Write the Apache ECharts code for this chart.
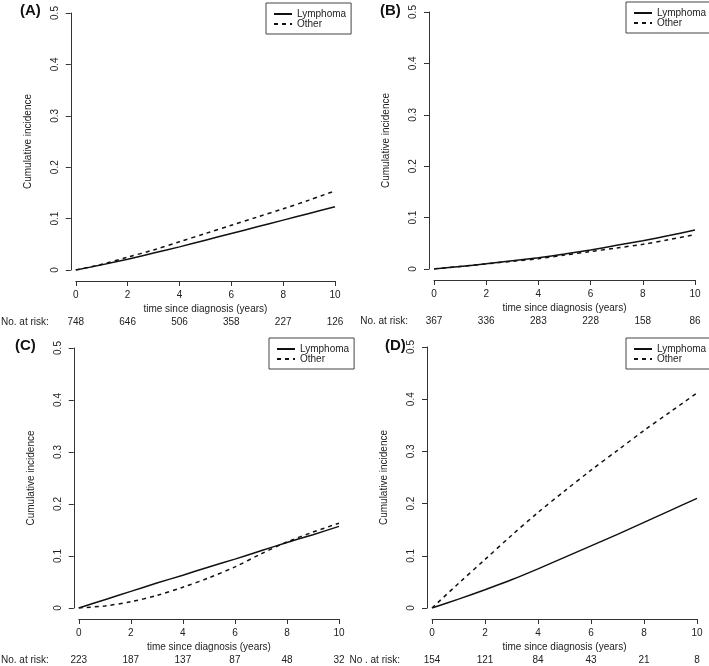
<!DOCTYPE html>
<html>
<head>
<meta charset="utf-8">
<script src="https://cdn.jsdelivr.net/npm/echarts@6/dist/echarts.min.js"></script>
<style>
html,body{margin:0;padding:0;background:#fff;}
#c{width:709px;height:666px;}
</style>
</head>
<body>
<div id="c"></div>
<script>
// ---- data ----
var years = [0, 1, 2, 3, 4, 5, 6, 7, 8, 9, 10];
var seriesNames = ['Lymphoma', 'Other'];
var panelLabels = ['(A)', '(B)', '(C)', '(D)'];
var atRiskLabels = ['No. at risk:', 'No. at risk:', 'No. at risk:', 'No . at risk:'];

var A_lymphoma = [0, 0.010, 0.021, 0.033, 0.045, 0.058, 0.071, 0.084, 0.097, 0.110, 0.123];
var A_other    = [0, 0.011, 0.025, 0.039, 0.055, 0.071, 0.087, 0.103, 0.119, 0.136, 0.154];
var A_atRisk   = [748, 646, 506, 358, 227, 126];

var B_lymphoma = [0, 0.005, 0.010, 0.016, 0.022, 0.029, 0.037, 0.046, 0.055, 0.065, 0.076];
var B_other    = [0, 0.005, 0.010, 0.015, 0.020, 0.027, 0.034, 0.041, 0.048, 0.057, 0.067];
var B_atRisk   = [367, 336, 283, 228, 158, 86];

var C_lymphoma = [0, 0.016, 0.032, 0.048, 0.063, 0.079, 0.094, 0.110, 0.126, 0.141, 0.157];
var C_other    = [0, 0.004, 0.012, 0.024, 0.040, 0.058, 0.079, 0.104, 0.127, 0.146, 0.163];
var C_atRisk   = [223, 187, 137, 87, 48, 32];

var D_lymphoma = [0, 0.017, 0.035, 0.054, 0.075, 0.097, 0.119, 0.141, 0.164, 0.187, 0.210];
var D_other    = [0, 0.047, 0.093, 0.139, 0.183, 0.224, 0.264, 0.302, 0.340, 0.376, 0.412];
var D_atRisk   = [154, 121, 84, 43, 21, 8];

var xTicks = [0, 2, 4, 6, 8, 10];
var yTicks = [0, 0.1, 0.2, 0.3, 0.4, 0.5];

// ---- layout (styles/positions) ----
var panels = [
  {lym: A_lymphoma, oth: A_other, risk: A_atRisk, grid: {left: 74, top: 13, width: 261, height: 257}, legend: {left: 266, top: 3}, title: {left: 20, top: 3}, riskGap: 27},
  {lym: B_lymphoma, oth: B_other, risk: B_atRisk, grid: {left: 434, top: 12, width: 261, height: 257}, legend: {left: 626, top: 2}, title: {left: 380, top: 3}, riskGap: 26},
  {lym: C_lymphoma, oth: C_other, risk: C_atRisk, grid: {left: 74, top: 348, width: 265, height: 260}, legend: {left: 269, top: 338}, title: {left: 15, top: 338}, riskGap: 30},
  {lym: D_lymphoma, oth: D_other, risk: D_atRisk, grid: {left: 432, top: 347, width: 265, height: 261}, legend: {left: 626, top: 338}, title: {left: 385, top: 338}, riskGap: 32}
];

var FONT = '"Liberation Sans", Arial, sans-serif';
var TXT = '#222';
var AX = '#333';

var option = {
  backgroundColor: '#fff',
  animation: false,
  textStyle: {fontFamily: FONT},
  title: [], legend: [], grid: [], xAxis: [], yAxis: [], series: []
};

panels.forEach(function (p, i) {
  option.title.push({
    text: panelLabels[i], left: p.title.left, top: p.title.top, padding: 0,
    textStyle: {fontFamily: FONT, fontSize: 15, fontWeight: 'bold', color: '#111'}
  });
  option.grid.push({left: p.grid.left, top: p.grid.top, width: p.grid.width, height: p.grid.height, containLabel: false});
  option.legend.push({
    left: p.legend.left, top: p.legend.top, orient: 'vertical',
    data: seriesNames.slice(),
    borderColor: '#444', borderWidth: 1, padding: [6, 5, 5, 7],
    itemWidth: 18, itemHeight: 10, itemGap: 0,
    itemStyle: {color: 'rgba(0,0,0,0)', borderWidth: 0, opacity: 0},
    textStyle: {fontFamily: FONT, fontSize: 10, color: TXT, lineHeight: 10},
    selectedMode: false
  });
  // x axis with ticks
  option.xAxis.push({
    gridIndex: i, type: 'value', min: 0, max: 10, interval: 2, position: 'bottom', offset: 11,
    name: 'time since diagnosis (years)', nameLocation: 'middle', nameGap: 23,
    nameTextStyle: {fontFamily: FONT, fontSize: 10, color: TXT},
    axisLine: {show: true, onZero: false, lineStyle: {color: AX, width: 1}},
    axisTick: {show: true, length: 5, lineStyle: {color: AX}},
    axisLabel: {fontFamily: FONT, fontSize: 10, color: TXT, margin: 9},
    splitLine: {show: false}
  });
  // at-risk row as a second x axis sharing the same scale
  (function (risk) {
    option.xAxis.push({
      gridIndex: i, type: 'value', min: 0, max: 10, interval: 2, position: 'bottom', offset: 52,
      name: atRiskLabels[i], nameLocation: 'start', nameGap: p.riskGap,
      nameTextStyle: {fontFamily: FONT, fontSize: 10, color: TXT, align: 'right', verticalAlign: 'middle'},
      axisLine: {show: false, onZero: false}, axisTick: {show: false},
      axisLabel: {fontFamily: FONT, fontSize: 10, color: TXT, margin: 0, verticalAlign: 'middle',
        formatter: function (v) { var k = xTicks.indexOf(v); return k >= 0 ? String(risk[k]) : ''; }},
      splitLine: {show: false}
    });
  })(p.risk);
  option.yAxis.push({
    gridIndex: i, type: 'value', min: 0, max: 0.5, interval: 0.1, offset: 5,
    name: 'Cumulative incidence', nameLocation: 'middle', nameGap: 38,
    nameTextStyle: {fontFamily: FONT, fontSize: 10, color: TXT},
    axisLine: {show: true, onZero: false, lineStyle: {color: AX, width: 1}},
    axisTick: {show: true, length: 5, lineStyle: {color: AX}},
    axisLabel: {fontFamily: FONT, fontSize: 10, color: TXT, rotate: 90, margin: 11,
      formatter: function (v) { var r = Math.round(v * 10) / 10; return yTicks.indexOf(r) >= 0 ? String(r) : ''; }},
    splitLine: {show: false}
  });
  [p.lym, p.oth].forEach(function (arr, k) {
    option.series.push({
      name: seriesNames[k], type: 'line', xAxisIndex: i * 2, yAxisIndex: i,
      data: years.map(function (x, j) { return [x, arr[j]]; }),
      smooth: 0.3, symbol: 'none', showSymbol: false,
      lineStyle: {color: '#111', width: 1.5, type: k === 0 ? 'solid' : [4, 4]},
      itemStyle: {color: '#111'},
      z: 3
    });
  });
});

var chart = echarts.init(document.getElementById('c'), null, {renderer: 'canvas'});
chart.setOption(option);
</script>
</body>
</html>
